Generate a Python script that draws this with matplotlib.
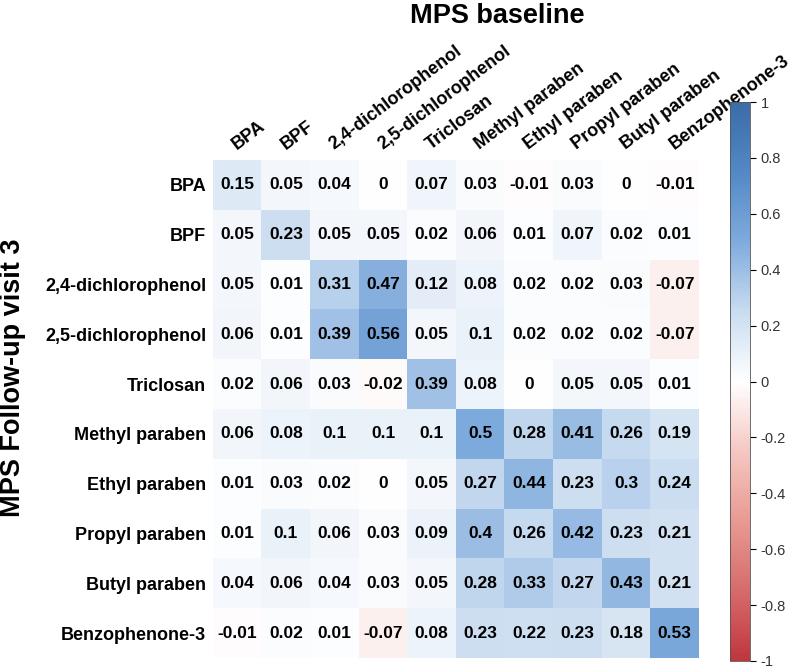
import numpy as np
import matplotlib
matplotlib.use("Agg")
from matplotlib import pyplot as plt
from matplotlib.colors import LinearSegmentedColormap

plt.rcParams['font.family'] = ['Liberation Sans', 'DejaVu Sans']

compounds = ['BPA', 'BPF', '2,4-dichlorophenol', '2,5-dichlorophenol', 'Triclosan',
             'Methyl paraben', 'Ethyl paraben', 'Propyl paraben', 'Butyl paraben',
             'Benzophenone-3']

# rows: follow-up visit 3, columns: baseline
corr = np.array([
    [0.15, 0.05, 0.04, 0, 0.07, 0.03, -0.01, 0.03, 0, -0.01],
    [0.05, 0.23, 0.05, 0.05, 0.02, 0.06, 0.01, 0.07, 0.02, 0.01],
    [0.05, 0.01, 0.31, 0.47, 0.12, 0.08, 0.02, 0.02, 0.03, -0.07],
    [0.06, 0.01, 0.39, 0.56, 0.05, 0.1, 0.02, 0.02, 0.02, -0.07],
    [0.02, 0.06, 0.03, -0.02, 0.39, 0.08, 0, 0.05, 0.05, 0.01],
    [0.06, 0.08, 0.1, 0.1, 0.1, 0.5, 0.28, 0.41, 0.26, 0.19],
    [0.01, 0.03, 0.02, 0, 0.05, 0.27, 0.44, 0.23, 0.3, 0.24],
    [0.01, 0.1, 0.06, 0.03, 0.09, 0.4, 0.26, 0.42, 0.23, 0.21],
    [0.04, 0.06, 0.04, 0.03, 0.05, 0.28, 0.33, 0.27, 0.43, 0.21],
    [-0.01, 0.02, 0.01, -0.07, 0.08, 0.23, 0.22, 0.23, 0.18, 0.53],
])

cmap = LinearSegmentedColormap.from_list('rdbu_corr', [
    (0.0, '#c0363d'), (0.125, '#d66b6b'), (0.25, '#e89a93'), (0.375, '#f5c7c2'),
    (0.5, '#ffffff'),
    (0.625, '#c9dcf0'), (0.75, '#7fabdd'), (0.875, '#5389c6'), (1.0, '#3a6ca8')])

fig = plt.figure(figsize=(8, 6.71), dpi=100)
ax = fig.add_axes([213 / 800, 1 - 658 / 671, 486 / 800, 498 / 671])
cax = fig.add_axes([730 / 800, 1 - 661 / 671, 20 / 800, 559 / 671])

im = ax.imshow(corr, cmap=cmap, vmin=-1, vmax=1, aspect='auto')

n = len(compounds)
for i in range(n):
    for j in range(n):
        v = corr[i, j]
        ax.text(j, i, f"{v:g}", ha='center', va='center', fontsize=12.5,
                fontweight='bold', color='black')

ax.set_xticks([])
ax.set_yticks(range(n))
ax.set_yticklabels(compounds, fontsize=13, fontweight='bold')
ax.tick_params(axis='y', length=0, pad=5)
for j, name in enumerate(compounds):
    ax.text(j + 0.04, -0.64, name, rotation=37, rotation_mode='anchor',
            ha='left', va='bottom', fontsize=13, fontweight='bold')
for s in ax.spines.values():
    s.set_visible(False)

fig.text(497 / 800, 1 - 16 / 671, 'MPS baseline', ha='center', va='center',
         fontsize=19.5, fontweight='bold')
fig.text(13 / 800, 1 - 378 / 671, 'MPS Follow-up visit 3', ha='center', va='center',
         rotation=90, fontsize=19.5, fontweight='bold')

cb = fig.colorbar(im, cax=cax, ticks=np.arange(-1, 1.01, 0.2))
cb.ax.set_yticklabels([f"{t:g}" if abs(t) > 1e-9 else "0"
                       for t in np.round(np.arange(-1, 1.01, 0.2), 1)])
cb.ax.tick_params(labelsize=10.5, length=4, width=0.8, colors='black',
                  labelcolor='#333333')
cb.outline.set_edgecolor('#555555')
cb.outline.set_linewidth(0.6)

fig.savefig('out.png', dpi=100)
